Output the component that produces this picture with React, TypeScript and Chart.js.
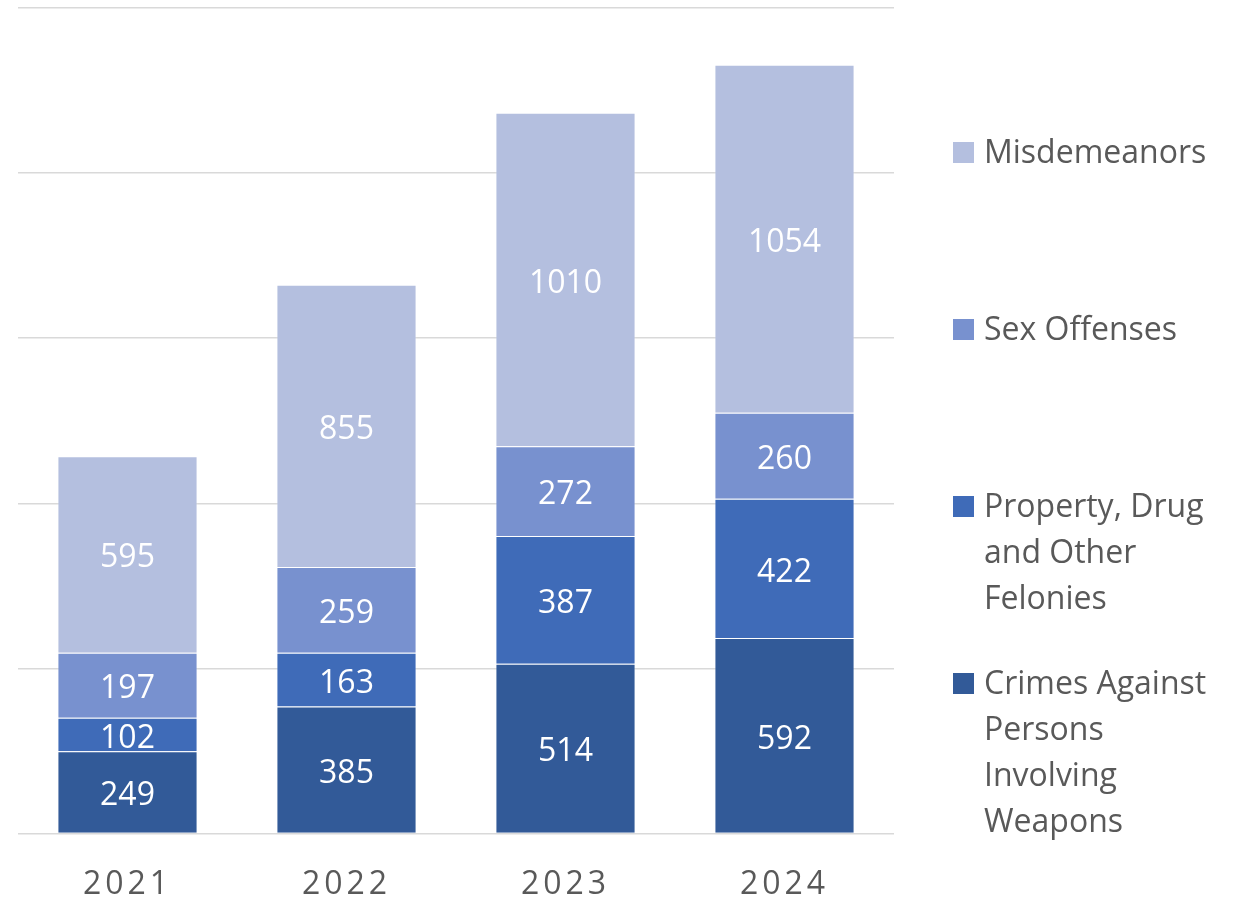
import React, { useEffect, useRef } from "react";
import { Chart, registerables } from "chart.js";

Chart.register(...registerables);

const years = ["2021", "2022", "2023", "2024"];
const crimesAgainstPersons = [249, 385, 514, 592];
const propertyDrugOther = [102, 163, 387, 422];
const sexOffenses = [197, 259, 272, 260];
const misdemeanors = [595, 855, 1010, 1054];

const seriesNames = [
  "Crimes Against Persons Involving Weapons",
  "Property, Drug and Other Felonies",
  "Sex Offenses",
  "Misdemeanors",
];
const seriesColors = ["#325A98", "#3F6BB8", "#7891CF", "#B4BFDF"];
const yTicks = [0, 500, 1000, 1500, 2000, 2500];

const FONT = "'Open Sans', 'DejaVu Sans', sans-serif";
const TEXT_COLOR = "#595959";

const letterSpacingPlugin = {
  id: "axisLetterSpacing",
  beforeDraw(chart: any) {
    (chart.ctx as any).letterSpacing = "4px";
  },
  beforeDatasetsDraw(chart: any) {
    (chart.ctx as any).letterSpacing = "0px";
  },
};

const dataLabelPlugin = {
  id: "segmentLabels",
  afterDatasetsDraw(chart: any) {
    const ctx = chart.ctx;
    ctx.save();
    (ctx as any).letterSpacing = "0px";
    ctx.font = `32px ${FONT}`;
    ctx.fillStyle = "#FFFFFF";
    ctx.textAlign = "center";
    ctx.textBaseline = "middle";
    chart.data.datasets.forEach((ds: any, i: number) => {
      const meta = chart.getDatasetMeta(i);
      meta.data.forEach((el: any, j: number) => {
        const props = el.getProps(["x", "y", "base"], true);
        const cy = (props.y + props.base) / 2;
        ctx.fillText(String(ds.data[j]), props.x, cy + 4);
      });
    });
    ctx.restore();
  },
};

export default function App() {
  const canvasRef = useRef<HTMLCanvasElement | null>(null);

  useEffect(() => {
    document.body.style.margin = "0";
    const allSeries = [crimesAgainstPersons, propertyDrugOther, sexOffenses, misdemeanors];
    const chart = new Chart(canvasRef.current as HTMLCanvasElement, {
      type: "bar",
      data: {
        labels: years,
        datasets: allSeries.map((d, i) => ({
          label: seriesNames[i],
          data: d,
          backgroundColor: seriesColors[i],
          borderColor: "rgba(255,255,255,0.3)",
          borderWidth: 1,
          categoryPercentage: 1,
          barPercentage: 0.64,
        })),
      },
      options: {
        responsive: false,
        animation: false,
        maintainAspectRatio: false,
        layout: { padding: { left: 18, right: 344, top: 8, bottom: 0 } },
        plugins: {
          legend: { display: false },
          tooltip: { enabled: false },
        },
        scales: {
          x: {
            stacked: true,
            grid: { display: false, drawTicks: false },
            border: { display: false },
            ticks: {
              color: TEXT_COLOR,
              font: { family: FONT, size: 32 },
              padding: 32,
            },
          },
          y: {
            stacked: true,
            min: yTicks[0],
            max: yTicks[yTicks.length - 1],
            afterBuildTicks: (axis: any) => {
              axis.ticks = yTicks.map((v) => ({ value: v }));
            },
            ticks: { display: false },
            border: { display: false },
            grid: { color: "#D9D9D9", lineWidth: 1.5, drawTicks: false },
          },
        },
      },
      plugins: [letterSpacingPlugin, dataLabelPlugin],
    });
    return () => chart.destroy();
  }, []);

  const legendOrder = [3, 2, 1, 0];
  const legendTops = [128, 305, 482, 659];

  return (
    <div
      style={{
        position: "fixed",
        left: 0,
        top: 0,
        width: 1238,
        height: 898,
        overflow: "hidden",
        background: "#FFFFFF",
      }}
    >
      <canvas ref={canvasRef} width={1238} height={936} style={{ display: "block" }} />
      {legendOrder.map((si, k) => (
        <div
          key={si}
          style={{
            position: "absolute",
            left: 953,
            top: legendTops[k],
            display: "flex",
            alignItems: "flex-start",
          }}
        >
          <div
            style={{
              width: 21,
              height: 21,
              marginTop: 14,
              background: seriesColors[si],
              flex: "0 0 auto",
            }}
          />
          <div
            style={{
              marginLeft: 10,
              width: 240,
              fontFamily: FONT,
              fontSize: 32,
              lineHeight: "46px",
              color: TEXT_COLOR,
            }}
          >
            {seriesNames[si]}
          </div>
        </div>
      ))}
    </div>
  );
}
